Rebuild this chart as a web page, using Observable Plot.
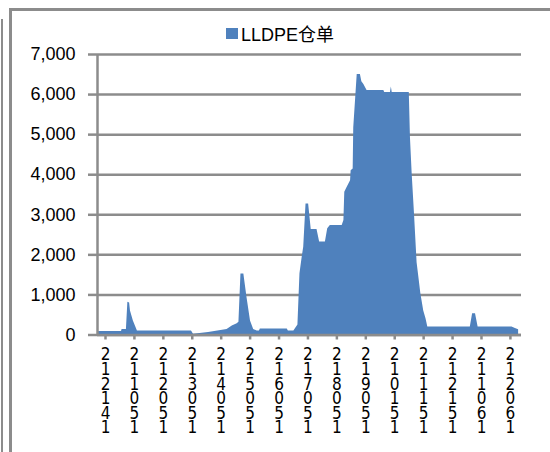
<!DOCTYPE html>
<html>
<head>
<meta charset="utf-8">
<script src="https://cdn.jsdelivr.net/npm/d3@7"></script>
<script src="https://cdn.jsdelivr.net/npm/@observablehq/plot@0.6"></script>
<style>
  html, body { margin: 0; padding: 0; background: #fff; }
  #page { position: relative; width: 550px; height: 452px; overflow: hidden; background: #fff; }
  #outer { position: absolute; left: 1px; top: 19px; width: 2px; height: 440px; background: #8c8c8c; }
  #frame { position: absolute; left: 9px; top: 8px; width: 560px; height: 460px; border-left: 3px solid #8c8c8c; border-top: 3px solid #8c8c8c; box-sizing: border-box; }
  #legend { position: absolute; left: 226px; top: 21px; height: 24px; display: flex; align-items: center; font-family: "Liberation Sans", "Noto Sans CJK SC", sans-serif; font-size: 18px; color: #000; white-space: nowrap; }
  #legend .sw { width: 12px; height: 11px; background: #4F81BD; margin-right: 3px; }
  #chart { position: absolute; left: 0; top: 0; }
</style>
</head>
<body>
<div id="page">
  <div id="outer"></div>
  <div id="frame"></div>
  <div id="legend"><span class="sw"></span><span>LLDPE仓单</span></div>
  <div id="chart"></div>
</div>
<script>
// x position in label-interval units (tick k = label k)
const tPos = [0.00, 0.83, 0.85, 1.00, 1.05, 1.11, 1.14, 1.24, 1.38, 3.25, 3.32, 3.84, 4.48, 4.66, 4.83, 4.89,
  4.96, 5.06, 5.17, 5.29, 5.40, 5.52, 5.60, 5.63, 6.56, 6.60, 6.79, 6.93, 7.00, 7.08, 7.13, 7.21,
  7.30, 7.39, 7.59, 7.68, 7.88, 7.96, 8.05, 8.46, 8.52, 8.55, 8.63, 8.75, 8.77, 8.84, 8.86, 8.98,
  9.09, 9.14, 9.21, 9.32, 9.90, 9.93, 10.13, 10.16, 10.19, 10.78, 10.82, 10.88, 10.96, 11.05, 11.11,
  11.18, 11.28, 11.36, 11.42, 12.89, 12.97, 13.07, 13.16, 14.33, 14.45, 14.56];
// LLDPE warehouse receipts
const stock = [90, 90, 140, 140, 820, 800, 600, 350, 100, 100, 20, 60, 140, 225, 280, 320,
  1520, 1520, 930, 350, 140, 100, 100, 150, 150, 100, 100, 250, 1530, 1950, 2190, 3270,
  3270, 2630, 2630, 2320, 2320, 2650, 2730, 2730, 2860, 3560, 3680, 3850, 4100, 4140, 5175, 6500,
  6500, 6320, 6250, 6100, 6100, 6050, 6050, 6190, 6050, 6050, 4930, 4020, 3020, 1800, 1450,
  1030, 600, 400, 200, 200, 530, 530, 200, 200, 160, 130];
const xLabels = ["212141", "211051", "212051", "213051", "214051", "215051", "216051", "217051",
  "218051", "219051", "210151", "211151", "212151", "211061", "212061"];
const yTicks = [0, 1000, 2000, 3000, 4000, 5000, 6000, 7000];

const data = tPos.map((t, i) => ({t, v: stock[i]}));
const xTicks = xLabels.map((d, i) => i);
const grey = "#8c8c8c";

const chart = Plot.plot({
  width: 550,
  height: 452,
  marginLeft: 97,
  marginRight: 29,
  marginTop: 54,
  marginBottom: 117.5,
  style: {fontFamily: "Liberation Sans, sans-serif", fontSize: "18px", color: "#000", background: "transparent"},
  x: {domain: [0, 14.66], axis: null},
  y: {domain: [0, 7000], axis: null},
  marks: [
    Plot.ruleY(yTicks, {stroke: grey, strokeWidth: 2.5}),
    Plot.axisY(yTicks, {tickSize: 9, tickPadding: 13, stroke: grey, strokeWidth: 2.5, fill: "#000",
      tickFormat: d3.format(","), fontSize: 18, label: null}),
    Plot.areaY(data, {x: "t", y: "v", fill: "#4F81BD", curve: "linear"}),
    Plot.ruleX([0], {stroke: grey, strokeWidth: 2.5}),
    Plot.ruleY([0], {stroke: grey, strokeWidth: 2.5}),
    Plot.axisX(xTicks, {tickSize: 5, tickPadding: 10, stroke: grey, strokeWidth: 2.5, fill: "#000",
      tickFormat: i => xLabels[i].split("").join("\n"), dx: 8, lineHeight: 0.86, label: null,
      fontSize: 17, fontFamily: "Liberation Sans Narrow, DejaVu Sans Condensed, sans-serif"})
  ]
});
document.getElementById("chart").appendChild(chart);
</script>
</body>
</html>
